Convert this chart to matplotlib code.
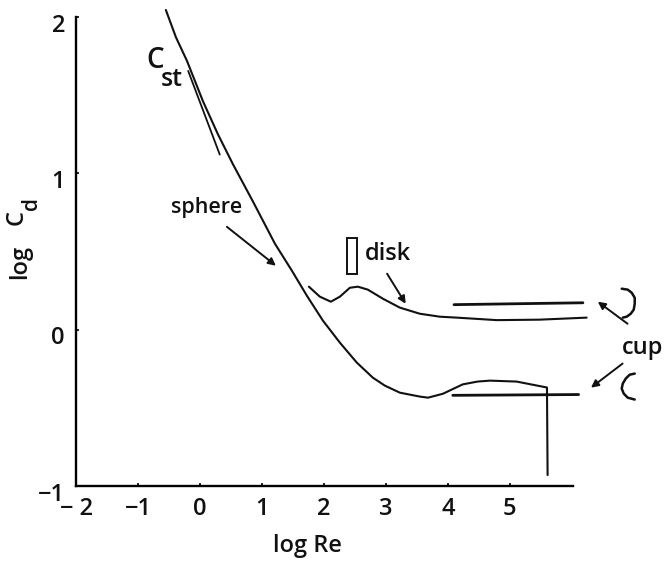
import matplotlib
matplotlib.use("Agg")
import matplotlib.pyplot as plt
from matplotlib.patches import Rectangle
from matplotlib.transforms import ScaledTranslation

# values
sphere_x = [-0.55, -0.387, -0.21, 0.05, 0.29, 0.53, 0.855, 1.21, 1.484, 1.726, 1.984, 2.258, 2.532, 2.79,
            2.984, 3.226, 3.548, 3.68, 3.92, 4.24, 4.48, 4.68, 5.11, 5.60, 5.61]
sphere_y = [2.045, 1.87, 1.72, 1.46, 1.25, 1.06, 0.82, 0.55, 0.377, 0.217, 0.058, -0.083, -0.211, -0.307,
            -0.358, -0.403, -0.428, -0.435, -0.41, -0.35, -0.332, -0.326, -0.332, -0.37, -0.93]

disk_x = [1.758, 1.935, 2.113, 2.258, 2.419, 2.548, 2.71, 2.952, 3.226, 3.548, 3.87, 4.145, 4.79, 5.48, 6.24]
disk_y = [0.275, 0.211, 0.179, 0.211, 0.268, 0.275, 0.256, 0.198, 0.141, 0.102, 0.083, 0.077, 0.061, 0.064, 0.077]

stokes_x = [-0.19, 0.32]
stokes_y = [1.655, 1.12]

cup_upper_x = [4.10, 6.18]
cup_upper_y = [0.16, 0.172]
cup_lower_x = [4.08, 6.11]
cup_lower_y = [-0.42, -0.415]

# little cup sketches next to the lines
glyph_upper_x = [6.806, 6.903, 6.968, 7.016, 7.016, 7.0, 6.952, 6.887, 6.823]
glyph_upper_y = [0.262, 0.256, 0.236, 0.204, 0.166, 0.128, 0.102, 0.083, 0.077]
glyph_lower_x = [7.016, 6.935, 6.871, 6.823, 6.806, 6.839, 6.903, 7.016]
glyph_lower_y = [-0.281, -0.288, -0.313, -0.345, -0.377, -0.409, -0.435, -0.447]

x_ticks = [-2, -1, 0, 1, 2, 3, 4, 5]
x_tick_labels = ["\u2212 2", "\u22121", "0", "1", "2", "3", "4", "5"]
y_ticks = [-1, 0, 1, 2]
y_tick_labels = ["\u22121", "0", "1", "2"]

plt.rcParams["font.family"] = ["Open Sans", "DejaVu Sans"]
plt.rcParams["font.weight"] = "semibold"

W, H = 665, 565
fig = plt.figure(figsize=(W / 100, H / 100), dpi=100)
ax = fig.add_axes([76 / W, 1 - 486 / H, (573 - 76) / W, (486 - 17) / H])
ax.set_xlim(-2, 6.02)
ax.set_ylim(-1, 2)

for s in ("top", "right"):
    ax.spines[s].set_visible(False)
for s in ("left", "bottom"):
    ax.spines[s].set_linewidth(1.7)

line_kw = dict(color="#111111", clip_on=False, solid_capstyle="round", solid_joinstyle="round")
ax.plot(sphere_x, sphere_y, lw=1.5, **line_kw)
ax.plot(disk_x, disk_y, lw=1.5, **line_kw)
ax.plot(stokes_x, stokes_y, lw=1.3, **line_kw)
ax.plot(cup_upper_x, cup_upper_y, lw=2.0, **line_kw)
ax.plot(cup_lower_x, cup_lower_y, lw=2.0, **line_kw)
ax.plot(glyph_upper_x, glyph_upper_y, lw=1.8, **line_kw)
ax.plot(glyph_lower_x, glyph_lower_y, lw=1.8, **line_kw)

# disk sketch
ax.add_patch(Rectangle((2.37, 0.358), 0.16, 0.23, fill=False, ec="#111111", lw=1.4))

ax.set_xticks(x_ticks)
ax.set_xticklabels(x_tick_labels)
ax.set_yticks(y_ticks)
ax.set_yticklabels(y_tick_labels)
ax.tick_params(axis="both", direction="in", length=2.5, width=1.3, labelsize=17, colors="#111111")
ax.tick_params(axis="x", pad=8)
ax.tick_params(axis="y", pad=8)

# the y labels sit a little under their ticks in the scan
shift = ScaledTranslation(0, -4 / 72, fig.dpi_scale_trans)
for label in ax.get_yticklabels():
    label.set_transform(label.get_transform() + shift)

arrows = [
    ((0.435, 0.658), (1.226, 0.409)),
    ((3.02, 0.358), (3.32, 0.166)),
    ((6.90, 0.038), (6.42, 0.179)),
    ((6.82, -0.217), (6.31, -0.371)),
]
for start, end in arrows:
    ax.annotate("", xy=end, xytext=start, annotation_clip=False,
                arrowprops=dict(arrowstyle="-|>", color="#111111", lw=1.4,
                                mutation_scale=11, shrinkA=0, shrinkB=0))

txt = dict(color="#111111", ha="center", va="center", clip_on=False)
ax.text(-0.73, 1.72, "C", fontsize=20, **txt)
ax.text(-0.45, 1.60, "st", fontsize=18, **txt)
ax.text(0.11, 0.78, "sphere", fontsize=15.5, **txt)
ax.text(3.03, 0.486, "disk", fontsize=17, **txt)
ax.text(7.15, -0.12, "cup", fontsize=17, **txt)

fig.text(307 / W, 1 - 546 / H, "log Re", fontsize=17, color="#111111", ha="center", va="center")
fig.text(20 / W, 1 - 262 / H, "log", fontsize=17, color="#111111", rotation=90, ha="center", va="center")
fig.text(17 / W, 1 - 217 / H, "C", fontsize=17, color="#111111", rotation=90, ha="center", va="center")
fig.text(31 / W, 1 - 203 / H, "d", fontsize=15, color="#111111", rotation=90, ha="center", va="center")

fig.savefig("out.png", dpi=100)
plt.close(fig)
